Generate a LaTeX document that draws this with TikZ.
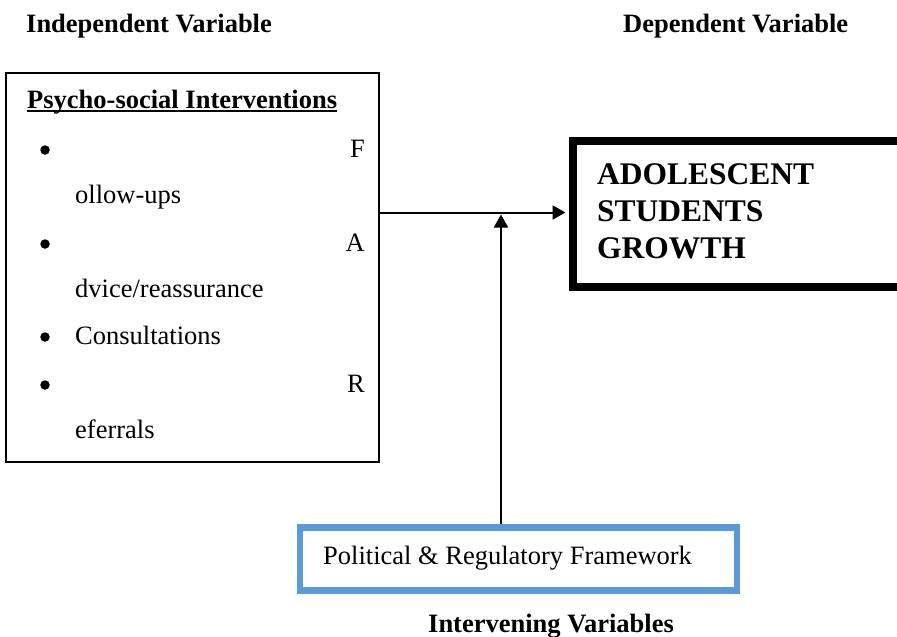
\documentclass[tikz,border=0pt]{standalone}
\usepackage{fontspec}
\setmainfont{Liberation Serif}
\usetikzlibrary{arrows.meta}
\definecolor{frameblue}{RGB}{91,155,213}
\tikzset{
  txt/.style={inner sep=0pt, font=\fontsize{26.5}{32}\selectfont},
  head/.style={inner sep=0pt, font=\fontsize{26.5}{32}\selectfont\bfseries, anchor=base west},
  dot/.style={circle, fill, inner sep=0pt, minimum size=9.5pt},
  arrow/.style={line width=2pt, -{Triangle[length=13pt,width=14pt]}}
}
\begin{document}
\begin{tikzpicture}[x=1pt, y=-1pt]
\useasboundingbox (0,0) rectangle (897,637);
\clip (0,0) rectangle (897,637);
% headings
\node[head] (indep) at (26,32) {Independent Variable};
\node[head] (dep) at (623,32) {Dependent Variable};
\node[head] (interv) at (428,632) {Intervening Variables};
% independent variable box
\node[draw, rectangle, line width=2pt, minimum width=373pt, minimum height=389pt, inner sep=0pt] (psy) at (192.5,267.5) {};
\node[head] (ttl) at (27,108) {Psycho-social Interventions};
\draw[line width=1.5pt] ([yshift=-3pt]ttl.base west) -- ([yshift=-3pt]ttl.base east);
\node[dot] (b1) at (45,150) {};
\node[txt, anchor=base east] (f) at (365,157) {F};
\node[txt, anchor=base west] (l1) at (75,203) {ollow-ups};
\node[dot] (b2) at (45,244) {};
\node[txt, anchor=base east] (a) at (365,251) {A};
\node[txt, anchor=base west] (l2) at (75,297) {dvice/reassurance};
\node[dot] (b3) at (45,337) {};
\node[txt, anchor=base west] (l3) at (75,344) {Consultations};
\node[dot] (b4) at (45,385) {};
\node[txt, anchor=base east] (r) at (365,392) {R};
\node[txt, anchor=base west] (l4) at (75,438) {eferrals};
% dependent variable box
\node[draw, rectangle, line width=8pt, minimum width=347pt, minimum height=146pt, inner sep=0pt] (growth) at (746.5,214) {};
\node[txt, font=\fontsize{31.5}{37}\selectfont\bfseries, align=left, anchor=north west] (gtext) at (597,163) {ADOLESCENT\\STUDENTS\\GROWTH};
% intervening variable box
\node[draw=frameblue, rectangle, line width=6.5pt, minimum width=437pt, minimum height=63pt, inner sep=0pt] (pol) at (518.5,559) {};
\node[txt, anchor=base west] (poltext) at (323,564) {Political \& Regulatory Framework};
% connectors
\coordinate (join) at (501,212.5);
\draw[arrow, shorten >=3.5pt] (psy.east |- join) -- (growth.west |- join);
\draw[arrow, shorten >=2pt] (pol.north -| join) -- (join);
\end{tikzpicture}
\end{document}
